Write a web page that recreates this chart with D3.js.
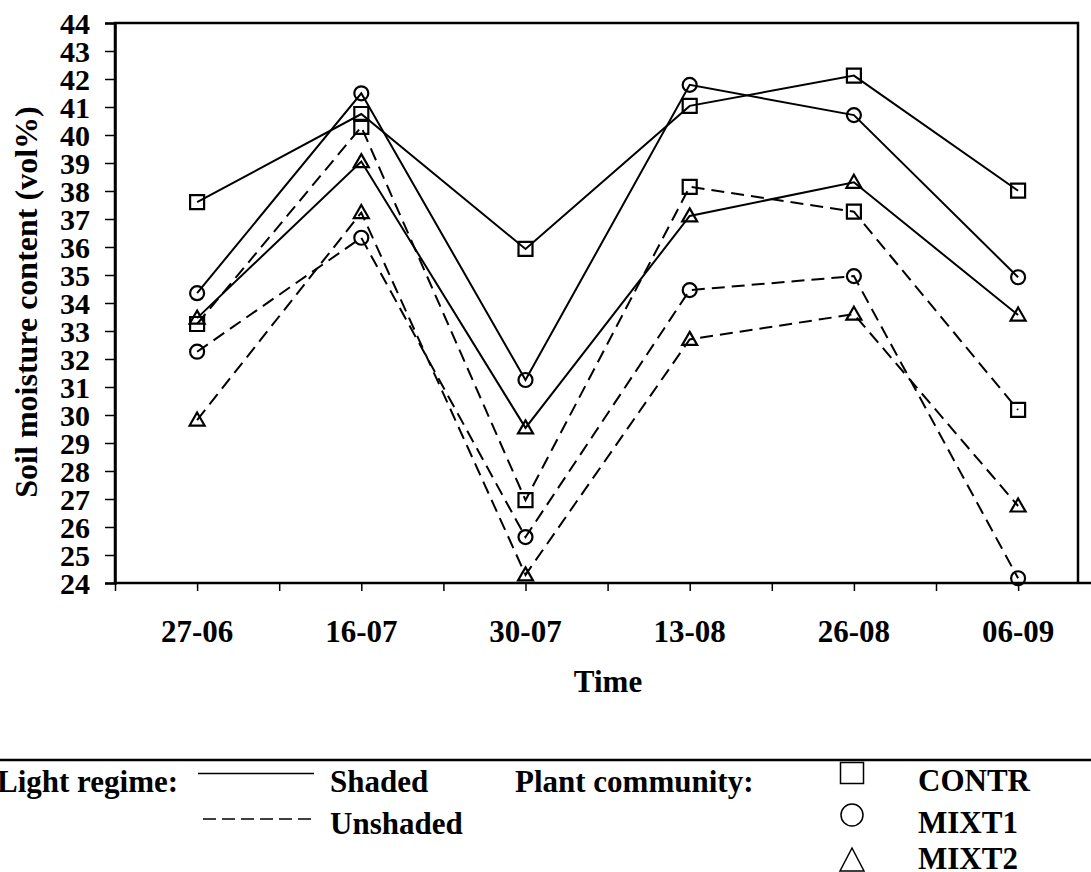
<!DOCTYPE html>
<html>
<head>
<meta charset="utf-8">
<script src="https://cdn.jsdelivr.net/npm/d3@7"></script>
<style>
  html, body { margin: 0; padding: 0; background: #fff; }
  svg { display: block; }
  text { font-family: "Liberation Serif", "Times New Roman", serif; font-weight: bold; fill: #000; }
</style>
</head>
<body>
<svg id="chart" width="1091" height="872"></svg>
<script>
// Sampling dates
const dates = ["27-06", "16-07", "30-07", "13-08", "26-08", "06-09"];

// Soil moisture content (vol%) per plant community, shaded plots
const shadedCONTR = [37.6, 40.75, 35.93, 41.04, 42.12, 38.01];
const shadedMIXT1 = [34.35, 41.49, 31.25, 41.79, 40.71, 34.92];
const shadedMIXT2 = [33.46, 39.05, 29.54, 37.11, 38.31, 33.57];

// Unshaded plots
const unshadedCONTR = [33.25, 40.29, 26.96, 38.15, 37.26, 30.18];
const unshadedMIXT1 = [32.26, 36.33, 25.64, 34.46, 34.96, 24.17];
const unshadedMIXT2 = [29.82, 37.23, 24.29, 32.70, 33.60, 26.75];

// Axis ticks
const yTicks = d3.range(24, 45, 1);

const series = [
  { community: "CONTR", regime: "Shaded",   values: shadedCONTR },
  { community: "MIXT1", regime: "Shaded",   values: shadedMIXT1 },
  { community: "MIXT2", regime: "Shaded",   values: shadedMIXT2 },
  { community: "CONTR", regime: "Unshaded", values: unshadedCONTR },
  { community: "MIXT1", regime: "Unshaded", values: unshadedMIXT1 },
  { community: "MIXT2", regime: "Unshaded", values: unshadedMIXT2 }
];

const svg = d3.select("#chart");

const plotLeft = 115, plotRight = 1100.2, plotTop = 23, plotBottom = 583, frameRight = 1078;

const x = d3.scaleBand().domain(dates).range([plotLeft, plotRight]).padding(0);
const xc = d => x(d) + x.bandwidth() / 2;
const y = d3.scaleLinear().domain([24, 44]).range([plotBottom, plotTop]);

// Half-band helper for the category-edge and category-centre ticks
const xTickScale = d3.scaleLinear().domain([0, dates.length * 2]).range([plotLeft, plotRight]);

// Plot frame
svg.append("path")
  .attr("d", `M${plotLeft},${plotBottom} L${plotLeft},${plotTop} L${frameRight},${plotTop} L${frameRight},${plotBottom}`)
  .attr("fill", "none").attr("stroke", "#000").attr("stroke-width", 2.5);

// Y axis
const yAxis = svg.append("g").attr("transform", `translate(${plotLeft},0)`)
  .call(d3.axisLeft(y).tickValues(yTicks).tickFormat(d3.format("d")).tickSize(10).tickPadding(15));
yAxis.attr("font-family", null).attr("font-size", null);
yAxis.select(".domain").attr("stroke-width", 2.5);
yAxis.selectAll(".tick line").attr("stroke-width", 1.5);
yAxis.selectAll(".tick text").attr("font-size", 30).attr("dy", "0.34em");

// X axis (ticks at band edges and centres)
const xAxis = svg.append("g").attr("transform", `translate(0,${plotBottom})`)
  .call(d3.axisBottom(xTickScale).tickValues(d3.range(0, dates.length * 2 + 1)).tickFormat("").tickSize(8).tickSizeOuter(0));
xAxis.select(".domain").attr("d", `M${plotLeft},0H1091`).attr("stroke-width", 2.5);
xAxis.selectAll(".tick line").attr("stroke-width", 1.5);

// Category labels
svg.append("g").selectAll("text").data(dates).join("text")
  .attr("x", d => xc(d)).attr("y", 642)
  .attr("text-anchor", "middle").attr("font-size", 31)
  .text(d => d);

// Axis titles
svg.append("text")
  .attr("x", 608).attr("y", 692)
  .attr("text-anchor", "middle").attr("font-size", 31)
  .text("Time");

svg.append("text")
  .attr("transform", "translate(37,302) rotate(-90)")
  .attr("text-anchor", "middle").attr("font-size", 32)
  .text("Soil moisture content (vol%)");

// Markers
const markerPath = {
  CONTR: "M-7,-7H7V7H-7Z",
  MIXT1: d3.symbol(d3.symbolCircle, Math.PI * 49)(),
  MIXT2: "M0,-7.5L7.5,5.5H-7.5Z"
};
const dashFor = r => r === "Unshaded" ? "13,7" : null;

const line = d3.line().x((v, i) => xc(dates[i])).y(v => y(v));

const g = svg.append("g");
g.selectAll("path.series").data(series).join("path")
  .attr("class", "series")
  .attr("d", s => line(s.values))
  .attr("fill", "none").attr("stroke", "#000").attr("stroke-width", 2)
  .attr("stroke-dasharray", s => dashFor(s.regime));

series.forEach(s => {
  g.append("g").selectAll("path").data(s.values).join("path")
    .attr("transform", (v, i) => `translate(${xc(dates[i])},${y(v)})`)
    .attr("d", markerPath[s.community])
    .attr("fill", "none").attr("stroke", "#000").attr("stroke-width", 2.2);
});

// Legend
svg.append("line").attr("x1", 0).attr("x2", 1091).attr("y1", 760).attr("y2", 760)
  .attr("stroke", "#000").attr("stroke-width", 2.5);

const lg = svg.append("g");
lg.append("text").attr("x", -3).attr("y", 792).attr("font-size", 31).text("Light regime:");
lg.append("line").attr("x1", 198).attr("x2", 314).attr("y1", 773.5).attr("y2", 773.5)
  .attr("stroke", "#000").attr("stroke-width", 1.5);
lg.append("text").attr("x", 330).attr("y", 792).attr("font-size", 31).text("Shaded");
lg.append("line").attr("x1", 203).attr("x2", 314).attr("y1", 819).attr("y2", 819)
  .attr("stroke", "#000").attr("stroke-width", 1.5).attr("stroke-dasharray", "13,6");
lg.append("text").attr("x", 330).attr("y", 834).attr("font-size", 31).text("Unshaded");

lg.append("text").attr("x", 515).attr("y", 792).attr("font-size", 31).text("Plant community:");
const communities = ["CONTR", "MIXT1", "MIXT2"];
const legendMarker = {
  CONTR: "M-11.5,-10.5H11.5V10.5H-11.5Z",
  MIXT1: d3.symbol(d3.symbolCircle, Math.PI * 121)(),
  MIXT2: "M0,-12L12,11H-12Z"
};
const legendRowY = [773, 815, 860];
const legendTextY = [791, 833, 869];
communities.forEach((c, i) => {
  lg.append("path").attr("transform", `translate(852,${legendRowY[i]})`)
    .attr("d", legendMarker[c]).attr("fill", "none").attr("stroke", "#000").attr("stroke-width", 1.5);
  lg.append("text").attr("x", 918).attr("y", legendTextY[i]).attr("font-size", 31).text(c);
});
</script>
</body>
</html>
